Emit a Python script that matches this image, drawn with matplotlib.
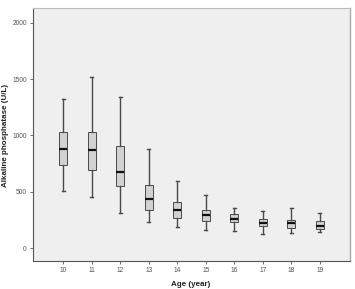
import matplotlib.pyplot as plt
import numpy as np

plt.rcParams['font.family'] = ['Liberation Sans', 'DejaVu Sans']

# alkaline phosphatase by age
ages = ['10', '11', '12', '13', '14', '15', '16', '17', '18', '19']
whislo = [511, 457, 313, 233, 192, 165, 153, 127, 133, 145]
q1 = [738, 697, 552, 337, 269, 239, 233, 195, 183, 174]
med = [877, 874, 679, 437, 340, 298, 260, 227, 224, 198]
q3 = [1028, 1028, 907, 561, 408, 340, 301, 257, 254, 245]
whishi = [1324, 1521, 1338, 880, 594, 472, 360, 328, 360, 310]

stats = []
for i in range(len(ages)):
    stats.append(dict(label=ages[i], whislo=whislo[i], q1=q1[i], med=med[i],
                      q3=q3[i], whishi=whishi[i], fliers=[]))

fig = plt.figure(figsize=(3.55, 2.89), dpi=100)
ax = fig.add_axes([33 / 355, 1 - 260.7 / 289, 317 / 355, 252.7 / 289])
ax.set_facecolor('#efefef')

pos = np.arange(len(ages))
ax.bxp(stats, positions=pos, widths=0.28, patch_artist=True, showfliers=False,
       boxprops=dict(facecolor='#d2d2d2', edgecolor='#4a4a4a', linewidth=0.7),
       medianprops=dict(color='#111111', linewidth=1.6),
       whiskerprops=dict(color='#4a4a4a', linewidth=1.0),
       capprops=dict(color='#4a4a4a', linewidth=1.0),
       capwidths=0.1)

ax.set_xlim(-1.06, 10.06)
ax.set_ylim(-110, 2130)
ax.set_yticks([0, 500, 1000, 1500, 2000])
ax.set_xticks(pos)
ax.set_xticklabels(ages)
ax.tick_params(labelsize=4.8, labelcolor='#555555', colors='#555555',
               length=2.5, width=0.6, pad=2)

for s in ['left', 'bottom']:
    ax.spines[s].set_color('#555555')
    ax.spines[s].set_linewidth(0.8)
ax.spines['top'].set_color('#bbbbbb')
ax.spines['right'].set_color('#aaaaaa')
ax.spines['right'].set_linewidth(1.0)

# axis titles placed by hand, like the SPSS output
fig.text(6 / 355, 1 - 135 / 289, 'Alkaline phosphatase (U/L)', fontsize=5.8,
         fontweight='bold', rotation=90, ha='center', va='center', color='#222222')
fig.text(191 / 355, 1 - 284 / 289, 'Age (year)', fontsize=5.8,
         fontweight='bold', ha='center', va='center', color='#222222')

plt.savefig('out.png', dpi=100)
